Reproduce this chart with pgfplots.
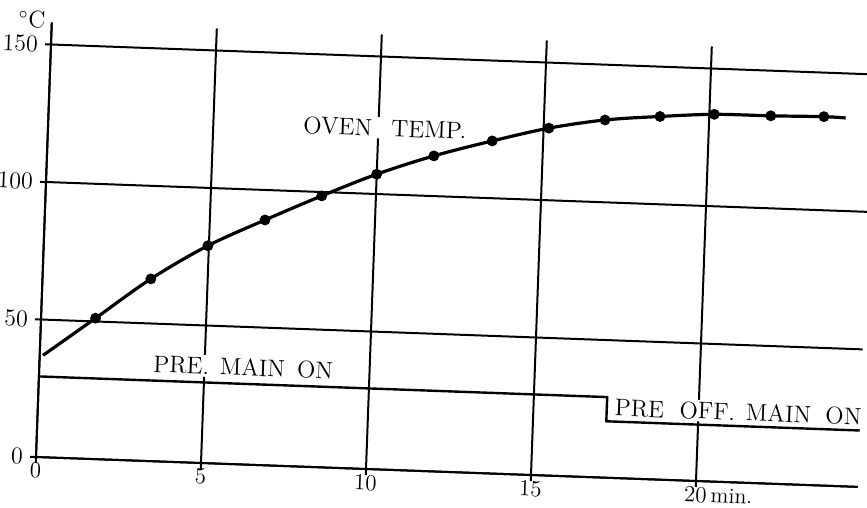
\documentclass[border=0pt]{standalone}
\usepackage{pgfplots}
\pgfplotsset{compat=1.18}
\begin{document}
\begin{tikzpicture}
\useasboundingbox (-18pt,-25.5pt) rectangle (415.5pt,228.5pt);
\begin{axis}[
  x={(16.5pt,-0.6pt)}, y={(0.05pt,1.375pt)},
  anchor=origin, at={(0pt,0pt)},
  xmin=0, xmax=24.9, ymin=0, ymax=158,
  axis lines*=left,
  axis line style={line width=1pt, -},
  grid=major,
  major grid style={black, line width=1pt},
  xtick={0,5,10,15,20},
  xticklabels={0,5,10,15,20\rlap{\,\fontsize{11}{11}\selectfont min.}},
  ytick={0,50,100,150},
  tick align=outside,
  major tick length=3pt,
  tick style={black, line width=1pt},
  tick label style={font=\fontsize{11.5}{12}\selectfont, rotate=-2.08},
  xticklabel style={inner sep=0.5pt, yshift=0.8pt},
  clip=false,
]
\addplot[black, line width=1.6pt, smooth, tension=0.55] coordinates {
 (0.1,37.0) (1.65,51.2) (3.28,66.2) (4.97,79.0) (6.67,89.1) (8.36,98.6)
 (10.0,107.2) (11.71,114.6) (13.46,120.8) (15.16,126.2) (16.85,129.9)
 (18.51,131.9) (20.15,133.4) (21.86,133.6) (23.47,134.0) (24.13,133.8)};
\addplot[only marks, mark=*, mark size=2.5pt, black] coordinates {
 (1.65,51.2) (3.28,66.2) (4.97,79.0) (6.67,89.1) (8.36,98.6)
 (10.0,107.2) (11.71,114.6) (13.46,120.8) (15.16,126.2) (16.85,129.9)
 (18.51,131.9) (20.15,133.4) (21.86,133.6) (23.47,134.0)};
\addplot[black, line width=1.2pt] coordinates {
 (0,29.3) (17.22,29.3) (17.22,20.5) (24.9,20.5)};
\node[rotate=-2.08, fill=white, inner sep=1pt, font=\fontsize{12}{14}\selectfont] at (axis cs:10.2,124.1) {OVEN\hspace{0.8em}TEMP.};
\node[rotate=-2.08, fill=white, inner sep=1pt, font=\fontsize{12}{14}\selectfont] at (axis cs:6.17,35.3) {PRE.\hspace{0.45em}MAIN\hspace{0.5em}ON};
\node[rotate=-2.08, fill=white, inner sep=1pt, font=\fontsize{12}{14}\selectfont] at (axis cs:21.2,25.6) {PRE\hspace{0.65em}OFF.\hspace{0.45em}MAIN\hspace{0.6em}ON};
\node[rotate=-2.08, inner sep=0.5pt, font=\fontsize{12}{14}\selectfont] at (axis cs:-0.6,159) {$^{\circ}$C};
\end{axis}
\end{tikzpicture}
\end{document}
